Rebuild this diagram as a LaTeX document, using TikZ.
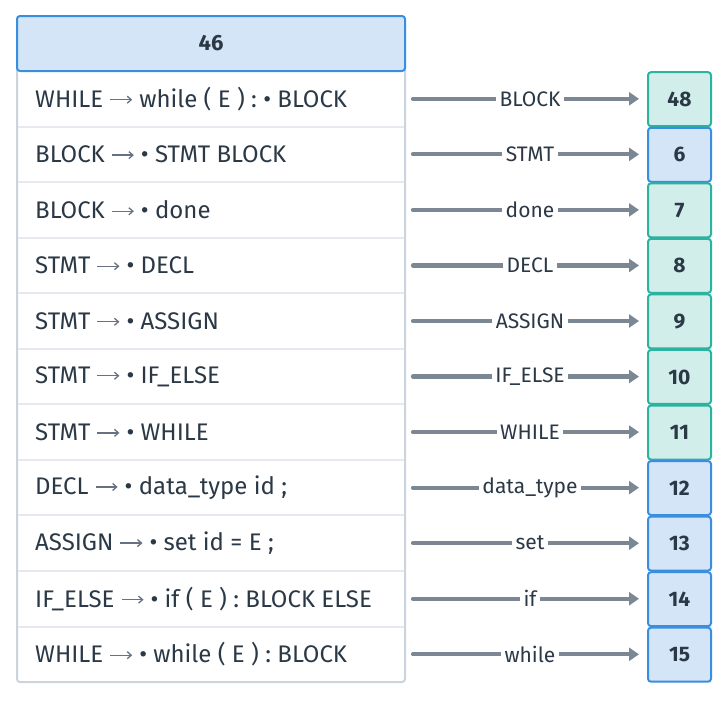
\documentclass[tikz,border=0pt]{standalone}
\usepackage{fontspec}
\setmainfont{Fira Sans}
\usetikzlibrary{arrows.meta}
\definecolor{txt}{HTML}{2B3846}
\definecolor{arrgray}{HTML}{7B8793}
\definecolor{symgray}{HTML}{66727F}
\definecolor{hdrfill}{HTML}{D4E5F7}
\definecolor{hdrline}{HTML}{3A8EE0}
\definecolor{tealfill}{HTML}{D2EEEA}
\definecolor{tealline}{HTML}{2BB3A0}
\definecolor{tblline}{HTML}{CBD4DD}
\definecolor{sepline}{HTML}{E6EAEE}
\newcommand{\ar}{\tikz[baseline=0pt]\draw[symgray, line width=1.3pt, -{Straight Barb[length=4pt,width=7pt]}] (0pt,7.5pt) -- (22pt,7.5pt);}
\tikzset{
  rowtext/.style={anchor=west, text=txt, font=\fontsize{24}{28}\selectfont, inner sep=0pt},
  hdrtext/.style={text=txt, font=\fontsize{22}{26}\selectfont\bfseries, inner sep=0pt},
  conn/.style={draw=arrgray, line width=4.2pt, line cap=round, -{Triangle[length=10pt,width=13pt]}},
  lbl/.style={fill=white, text=txt, font=\fontsize{21}{24}\selectfont, inner xsep=3.5pt, inner ysep=2pt},
  tealbox/.style={draw=tealline, fill=tealfill, line width=2pt, rounded corners=3pt, minimum width=63pt, minimum height=54pt, inner sep=0pt, text=txt, font=\fontsize{21}{24}\selectfont\bfseries},
  bluebox/.style={draw=hdrline, fill=hdrfill, line width=2pt, rounded corners=3pt, minimum width=63pt, minimum height=54pt, inner sep=0pt, text=txt, font=\fontsize{21}{24}\selectfont\bfseries},
}
\begin{document}
\begin{tikzpicture}[x=1pt,y=-1pt]
\useasboundingbox (0,0) rectangle (726,702);
% table body
\draw[tblline, line width=2pt, fill=white, rounded corners=3pt] (17,60) rectangle (405,682);
\foreach \i in {1,...,10} {
  \draw[sepline, line width=2pt] (18,{71+\i*55.55}) -- (404,{71+\i*55.55});
}
% header
\draw[hdrline, fill=hdrfill, line width=2pt, rounded corners=3pt] (17,16) rectangle (405,71);
\node[hdrtext] (hdr) at (211,43.5) {46};
% rows
\node[rowtext] (r1) at (35,{71+0*55.55+27.8}) {WHILE \ar{} while ( E ) : • BLOCK};
\node[rowtext] (r2) at (35,{71+1*55.55+27.8}) {BLOCK \ar{} • STMT BLOCK};
\node[rowtext] (r3) at (35,{71+2*55.55+27.8}) {BLOCK \ar{} • done};
\node[rowtext] (r4) at (35,{71+3*55.55+27.8}) {STMT \ar{} • DECL};
\node[rowtext] (r5) at (35,{71+4*55.55+27.8}) {STMT \ar{} • ASSIGN};
\node[rowtext] (r6) at (35,{71+5*55.55+27.8}) {STMT \ar{} • IF\_ELSE};
\node[rowtext] (r7) at (35,{71+6*55.55+27.8}) {STMT \ar{} • WHILE};
\node[rowtext] (r8) at (35,{71+7*55.55+27.8}) {DECL \ar{} • data\_type id ;};
\node[rowtext] (r9) at (35,{71+8*55.55+27.8}) {ASSIGN \ar{} • set id = E ;};
\node[rowtext] (r10) at (35,{71+9*55.55+27.8}) {IF\_ELSE \ar{} • if ( E ) : BLOCK ELSE};
\node[rowtext] (r11) at (35,{71+10*55.55+27.8}) {WHILE \ar{} • while ( E ) : BLOCK};
% target boxes
\node[tealbox] (b1) at (679.5,{71+0*55.55+28.2}) {48};
\node[bluebox] (b2) at (679.5,{71+1*55.55+28.2}) {6};
\node[tealbox] (b3) at (679.5,{71+2*55.55+28.2}) {7};
\node[tealbox] (b4) at (679.5,{71+3*55.55+28.2}) {8};
\node[tealbox] (b5) at (679.5,{71+4*55.55+28.2}) {9};
\node[tealbox] (b6) at (679.5,{71+5*55.55+28.2}) {10};
\node[tealbox] (b7) at (679.5,{71+6*55.55+28.2}) {11};
\node[bluebox] (b8) at (679.5,{71+7*55.55+28.2}) {12};
\node[bluebox] (b9) at (679.5,{71+8*55.55+28.2}) {13};
\node[bluebox] (b10) at (679.5,{71+9*55.55+28.2}) {14};
\node[bluebox] (b11) at (679.5,{71+10*55.55+28.2}) {15};
% connectors
\foreach \i/\l in {1/BLOCK,2/STMT,3/done,4/DECL,5/ASSIGN,6/IF\_ELSE,7/WHILE,8/data\_type,9/set,10/if,11/while} {
  \coordinate (a\i) at (413,{71+(\i-1)*55.55+27.8});
  \draw[conn, shorten >=8pt] (a\i) -- (a\i -| b\i.west) node[lbl, pos=0.5] {\l};
}
\end{tikzpicture}
\end{document}
